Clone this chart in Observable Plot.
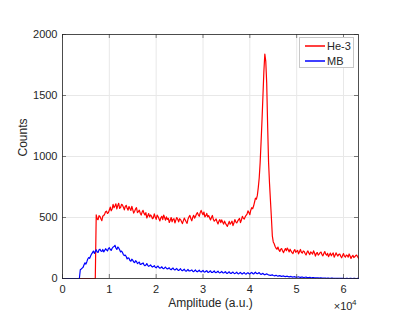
<!DOCTYPE html>
<html>
<head>
<meta charset="utf-8">
<script src="https://cdn.jsdelivr.net/npm/d3@7"></script>
<script src="https://cdn.jsdelivr.net/npm/@observablehq/plot@0.6"></script>
<style>
  html, body { margin: 0; padding: 0; background: #fff; }
  #wrap { position: relative; width: 407px; height: 325px; }
  #legend {
    position: absolute; left: 299px; top: 37px; width: 53px; height: 29px;
    border: 1px solid #c8c8c8; background: #fff;
    font-family: "Liberation Sans", Arial, sans-serif; font-size: 11px; color: #262626;
  }
  #legend .row { position: absolute; left: 0; height: 14px; display: flex; align-items: center; }
  #legend .sw { display: inline-block; width: 20px; height: 2px; margin-left: 5px; margin-right: 2px; opacity: 0.75; }
</style>
</head>
<body>
<div id="wrap"></div>
<script>
// Bin grid of the spectra (channel start and width, a.u.)
const binStart = 0;
const binWidth = 200;

// He-3 counts per bin
const he3 = [
  0,0,0,0,0,0,0,0,0,0,0,0,0,0,0,0,0,0,0,0,0,0,0,0,0,0,0,0,0,0,0,0,0,0,0,0,
  522,488,482,515,508,490,474,512,515,528,547,552,533,540,562,585,555,570,608,580,
  595,612,570,598,616,575,582,608,602,585,563,590,600,575,560,590,573,558,592,565,
  536,552,570,580,540,548,560,535,520,544,559,534,521,540,496,515,532,505,521,512,
  490,498,530,505,485,520,508,490,472,498,510,482,520,500,478,505,484,492,459,478,
  500,465,485,490,455,478,500,485,464,490,483,468,450,472,495,480,465,452,488,505,
  517,492,473,500,518,495,509,528,540,522,510,540,558,538,523,545,504,515,534,505,
  516,498,480,500,517,485,470,478,488,465,447,470,482,458,480,462,446,470,452,440,
  427,448,468,445,456,470,433,455,483,465,455,470,482,492,458,480,510,495,487,505,
  518,528,555,540,523,560,580,572,594,625,658,650,681,745,824,
  950,1120,1300,1500,1700,1840,1780,1600,1250,950,780,640,500,350,300,285,262,248,240,
  258,235,222,240,245,226,212,232,245,228,250,236,218,240,224,212,204,226,237,215,
  224,230,202,220,238,215,208,226,222,205,193,214,226,208,196,218,210,200,227,210,
  184,205,213,192,200,212,217,196,186,205,221,200,191,206,179,194,208,186,199,210,
  175,190,210,195,184,198,200,182,170,188,204,183,175,192,188,175,201,185,164,180,
  190,172,178,188,192,178,166
];

// MB counts per bin
const mb = [
  0,0,0,0,0,0,0,0,0,0,0,0,0,0,0,0,0,0,0,
  72,
  78,85,92,112,128,118,138,160,172,165,185,200,212,225,206,222,235,218,214,236,
  240,225,222,238,218,230,244,235,226,245,252,238,230,248,258,262,272,250,238,258,
  250,235,218,225,214,196,188,192,180,160,170,165,148,142,158,150,136,130,146,140,
  122,128,135,115,118,122,128,112,105,110,122,108,100,104,112,100,94,98,106,92,
  88,96,102,90,84,88,96,85,80,87,94,82,78,83,88,76,72,80,86,74,
  70,76,82,70,66,73,80,68,64,70,76,64,60,66,74,62,62,66,70,60,
  56,63,70,58,55,62,68,57,54,60,66,55,52,59,64,52,50,57,63,50,
  49,55,62,50,48,54,60,49,46,52,58,47,45,51,56,44,42,49,55,44,
  41,47,53,43,40,45,52,41,38,45,50,40,37,44,49,39,36,43,48,40,
  38,45,50,41,37,45,52,42,39,44,48,38,33,38,42,34,30,35,38,33,
  30,27,26,28,30,25,22,24,26,22,20,22,24,19,17,20,21,17,15,18,
  19,15,13,15,17,13,12,14,15,11,10,12,14,10,9,11,12,9,8,10,
  11,8,7,8,9,7,6,7,8,6,5,6,6,5,4,5,5,4,3,4,
  4,3,2,3,3,2,2,3,3,2,1,2,2,1,1,2,2,1,1,1,
  1,0,0,1,1,0,0,1,1,0,0,1,1,0,0,1,1
];

const xTicks = [0, 10000, 20000, 30000, 40000, 50000, 60000];
const yTicks = [0, 500, 1000, 1500, 2000];
const xDomain = [0, 63200];
const yDomain = [0, 2000];
const seriesNames = ["He-3", "MB"];
const seriesColors = ["#ff0000", "#0000ff"];

const rows = [];
he3.forEach((v, i) => rows.push({series: "He-3", x: binStart + i * binWidth, y: v}));
mb.forEach((v, i) => rows.push({series: "MB", x: binStart + i * binWidth, y: v}));

const W = 407, H = 325, mL = 62, mR = 49, mT = 34, mB = 47;
const iw = W - mL - mR, ih = H - mT - mB;
const axisColor = "#262626";
const font = "Liberation Sans, Arial, Helvetica, sans-serif";

const chart = Plot.plot({
  width: W, height: H,
  marginLeft: mL, marginRight: mR, marginTop: mT, marginBottom: mB,
  style: {fontFamily: font, fontSize: "11px", color: axisColor, background: "#fff"},
  x: {domain: xDomain, ticks: xTicks, tickFormat: d => String(d / 10000), tickSize: 0, tickPadding: 7, label: null},
  y: {domain: yDomain, ticks: yTicks, tickFormat: d => String(d), tickSize: 0, tickPadding: 5, label: null},
  color: {domain: seriesNames, range: seriesColors},
  marks: [
    Plot.ruleX(xTicks, {x: d => d, stroke: "#e8e8e8", strokeWidth: 1}),
    Plot.ruleY(yTicks, {y: d => d, stroke: "#e8e8e8", strokeWidth: 1}),
    Plot.lineY(rows, {x: "x", y: "y", z: "series", stroke: "series", strokeWidth: 1.2}),
    Plot.tickX(xTicks, {x: d => d, insetTop: ih - 4, stroke: axisColor, strokeWidth: 0.6}),
    Plot.tickX(xTicks, {x: d => d, insetBottom: ih - 4, stroke: axisColor, strokeWidth: 0.6}),
    Plot.tickY(yTicks, {y: d => d, insetRight: iw - 4, stroke: axisColor, strokeWidth: 0.6}),
    Plot.tickY(yTicks, {y: d => d, insetLeft: iw - 4, stroke: axisColor, strokeWidth: 0.6}),
    Plot.frame({stroke: axisColor, strokeWidth: 0.8}),
    Plot.text(["Amplitude (a.u.)"], {text: d => d, frameAnchor: "bottom", dy: 28, fontSize: 12, fill: axisColor}),
    Plot.text(["Counts"], {text: d => d, frameAnchor: "left", dx: -39, rotate: -90, fontSize: 12, fill: axisColor}),
    Plot.text(["×10"], {text: d => d, frameAnchor: "bottom-right", dx: -6, dy: 31, textAnchor: "end", fontSize: 11, fill: axisColor}),
    Plot.text(["4"], {text: d => d, frameAnchor: "bottom-right", dx: -2, dy: 26, textAnchor: "end", fontSize: 8, fill: axisColor})
  ]
});

const wrap = document.getElementById("wrap");
wrap.appendChild(chart);

const legend = document.createElement("div");
legend.id = "legend";
seriesNames.forEach((name, i) => {
  const row = document.createElement("div");
  row.className = "row";
  row.style.top = (1 + i * 15) + "px";
  const sw = document.createElement("span");
  sw.className = "sw";
  sw.style.background = seriesColors[i];
  const label = document.createElement("span");
  label.textContent = name;
  row.appendChild(sw);
  row.appendChild(label);
  legend.appendChild(row);
});
wrap.appendChild(legend);
</script>
</body>
</html>
